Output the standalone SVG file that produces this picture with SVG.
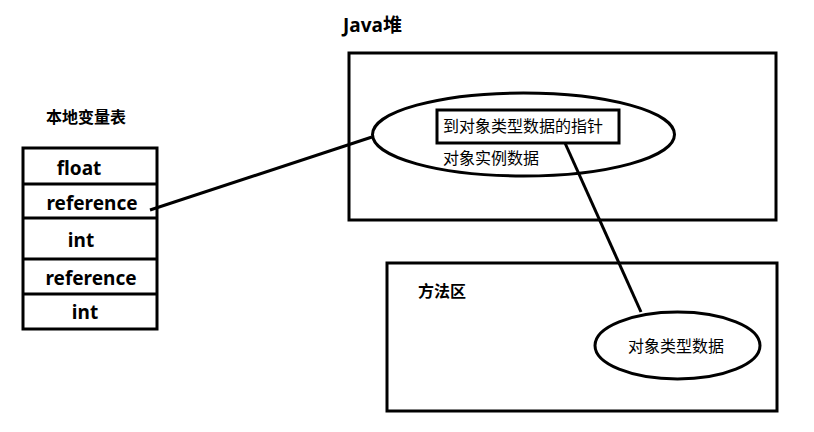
<svg xmlns="http://www.w3.org/2000/svg" width="814" height="432" viewBox="0 0 814 432">
<style>
.box{fill:none;stroke:#000;stroke-width:3}
.conn{stroke:#000;stroke-width:3;fill:none}
.lat{font-family:"Noto Sans","Noto Sans CJK SC",sans-serif;font-weight:bold;font-size:19px;fill:#000}
.cjk{font-family:"Noto Sans CJK SC",sans-serif;font-size:16px;fill:#000}
.cjkb{font-family:"Noto Sans CJK SC",sans-serif;font-size:16px;font-weight:bold;fill:#000}
</style>
<rect width="814" height="432" fill="#fff"/>
<g id="local-vars">
<text class="cjkb" x="46" y="123" font-size="18">本地变量表</text>
<rect class="box" x="23" y="148" width="134" height="181"/>
<line class="conn" x1="23" y1="184" x2="157" y2="184"/>
<line class="conn" x1="23" y1="218" x2="157" y2="218"/>
<line class="conn" x1="23" y1="259" x2="157" y2="259"/>
<line class="conn" x1="23" y1="294" x2="157" y2="294"/>
<text class="lat" x="79" y="175" text-anchor="middle">float</text>
<text class="lat" x="92" y="210" text-anchor="middle">reference</text>
<text class="lat" x="81" y="247" text-anchor="middle">int</text>
<text class="lat" x="91" y="285" text-anchor="middle">reference</text>
<text class="lat" x="85" y="319" text-anchor="middle">int</text>
</g>
<g id="java-heap">
<text class="lat" x="343" y="32" font-size="17">Java堆</text>
<rect class="box" x="349" y="53" width="427" height="167"/>
<ellipse class="box" cx="523.5" cy="134.5" rx="151" ry="41.5"/>
<rect class="box" x="437" y="110" width="182" height="33" fill="#fff"/>
<text class="cjk" x="443" y="132">到对象类型数据的指针</text>
<text class="cjk" x="443" y="164">对象实例数据</text>
</g>
<g id="method-area">
<rect class="box" x="387" y="263" width="390" height="148"/>
<text class="cjkb" x="418" y="297">方法区</text>
<ellipse class="box" cx="677.5" cy="345.5" rx="82.5" ry="33.5"/>
<text class="cjk" x="628" y="352">对象类型数据</text>
</g>
<g id="connectors">
<line class="conn" x1="150" y1="210" x2="372" y2="137"/>
<line class="conn" x1="565" y1="143" x2="641" y2="312"/>
</g>
</svg>
